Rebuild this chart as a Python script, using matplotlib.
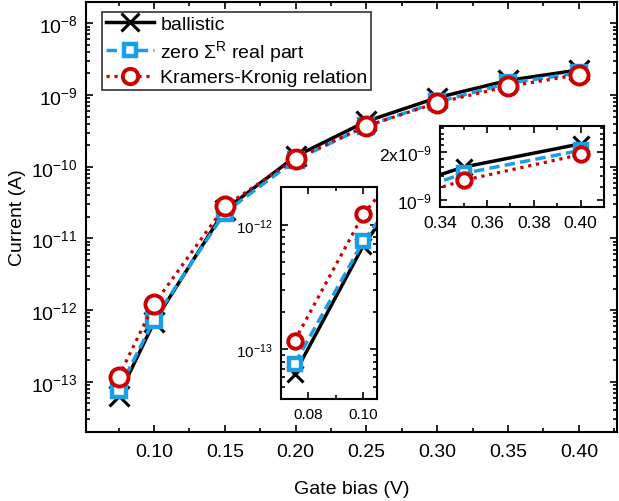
import numpy as np
import matplotlib
matplotlib.use("Agg")
import matplotlib.pyplot as plt
from matplotlib.ticker import FixedLocator, MultipleLocator, LogLocator, NullFormatter, FixedFormatter

plt.rcParams["font.family"] = ["Liberation Sans", "DejaVu Sans"]
plt.rcParams["mathtext.default"] = "regular"

# gate bias (V)
bias = [0.075, 0.10, 0.15, 0.20, 0.25, 0.30, 0.35, 0.40]
# current (A)
ballistic = [6.4e-14, 6.8e-13, 2.5e-11, 1.4e-10, 4.3e-10, 9.2e-10, 1.60e-9, 2.24e-9]
zero_re = [7.7e-14, 7.35e-13, 2.3e-11, 1.25e-10, 3.7e-10, 8.0e-10, 1.46e-9, 2.04e-9]
kramers = [1.18e-13, 1.21e-12, 2.8e-11, 1.3e-10, 3.7e-10, 7.8e-10, 1.32e-9, 1.92e-9]

labels = ["ballistic", r"zero $\Sigma^R$ real part", "Kramers-Kronig relation"]

BLUE = "#1a9fe6"
RED = "#cc0000"


def draw_series(ax, scale=1.0):
    ax.plot(bias, ballistic, color="black", lw=2.5, ls="-", marker="x",
            ms=15 * scale, mew=2.2, label=labels[0])
    ax.plot(bias, zero_re, color=BLUE, lw=2.5, ls=(0, (3, 1.5)), marker="s",
            ms=10.5 * scale, mew=3.2, mfc="white", label=labels[1])
    ax.plot(bias, kramers, color=RED, lw=2.3, ls=(0, (1, 1.5)), marker="o",
            ms=13 * scale, mew=2.8, mfc="white", label=labels[2])


def style_ticks(ax, size, pad=4):
    ax.tick_params(which="both", direction="in", top=True, right=True,
                   labelsize=size, pad=pad)
    ax.tick_params(which="major", length=5, width=1.2)
    ax.tick_params(which="minor", length=3, width=1.2)
    for s in ax.spines.values():
        s.set_linewidth(1.5)


fig = plt.figure(figsize=(6.19, 5.02), dpi=100)

# main axes
ax = fig.add_axes([0.139, 0.1375, 0.858, 0.857])
draw_series(ax)
ax.set_yscale("log")
ax.set_xlim(0.052, 0.427)
ax.set_ylim(2e-14, 2e-8)
ax.xaxis.set_major_locator(MultipleLocator(0.05))
ax.xaxis.set_minor_locator(MultipleLocator(0.025))
ax.xaxis.set_major_formatter(plt.FuncFormatter(lambda v, p: f"{v:.2f}"))
ax.yaxis.set_major_locator(LogLocator(base=10, numticks=20))
ax.yaxis.set_minor_locator(LogLocator(base=10, subs=np.arange(2, 10), numticks=20))
ax.yaxis.set_minor_formatter(NullFormatter())
ax.yaxis.set_major_formatter(plt.FuncFormatter(lambda v, p: r"$10^{%d}$" % round(np.log10(v))))
style_ticks(ax, 14)
ax.tick_params(axis="x", which="both", pad=8)
ax.tick_params(axis="y", which="both", pad=6)
ax.set_xlabel("Gate bias (V)", fontsize=14, labelpad=14)
ax.set_ylabel("Current (A)", fontsize=14, labelpad=4)
leg = ax.legend(loc="upper left", bbox_to_anchor=(0.03, 0.977), fontsize=14,
                handlelength=2.5, fancybox=False, edgecolor="#333333",
                framealpha=1, borderpad=0.2, labelspacing=0.25, handletextpad=0.3,
                borderaxespad=0.0, markerscale=0.85)
leg.get_frame().set_linewidth(1.2)

# low-bias inset
ax1 = fig.add_axes([0.454, 0.203, 0.155, 0.422])
draw_series(ax1, scale=0.8)
ax1.set_yscale("log")
ax1.set_xlim(0.070, 0.105)
ax1.set_ylim(4e-14, 2e-12)
ax1.xaxis.set_major_locator(FixedLocator([0.08, 0.10]))
ax1.xaxis.set_minor_locator(FixedLocator([0.07, 0.09]))
ax1.xaxis.set_major_formatter(FixedFormatter(["0.08", "0.10"]))
ax1.yaxis.set_major_locator(LogLocator(base=10, numticks=20))
ax1.yaxis.set_minor_locator(LogLocator(base=10, subs=np.arange(2, 10), numticks=20))
ax1.yaxis.set_minor_formatter(NullFormatter())
ax1.yaxis.set_major_formatter(plt.FuncFormatter(lambda v, p: r"$10^{%d}$" % round(np.log10(v))))
style_ticks(ax1, 11, pad=6)

# high-bias inset
ax2 = fig.add_axes([0.711, 0.586, 0.265, 0.161])
draw_series(ax2, scale=0.8)
ax2.set_yscale("log")
ax2.set_xlim(0.34, 0.41)
ax2.set_ylim(0.9e-9, 2.9e-9)
ax2.xaxis.set_major_locator(MultipleLocator(0.02))
ax2.xaxis.set_minor_locator(MultipleLocator(0.01))
ax2.xaxis.set_major_formatter(plt.FuncFormatter(lambda v, p: f"{v:.2f}"))
ax2.yaxis.set_major_locator(FixedLocator([1e-9, 2e-9]))
ax2.yaxis.set_major_formatter(FixedFormatter([r"$10^{-9}$", r"$2x10^{-9}$"]))
ax2.yaxis.set_minor_locator(FixedLocator([1.2e-9, 1.4e-9, 1.6e-9, 1.8e-9,
                                          2.2e-9, 2.4e-9, 2.6e-9, 2.8e-9]))
ax2.yaxis.set_minor_formatter(NullFormatter())
style_ticks(ax2, 12.5, pad=6)

fig.savefig("out.png", dpi=100)
